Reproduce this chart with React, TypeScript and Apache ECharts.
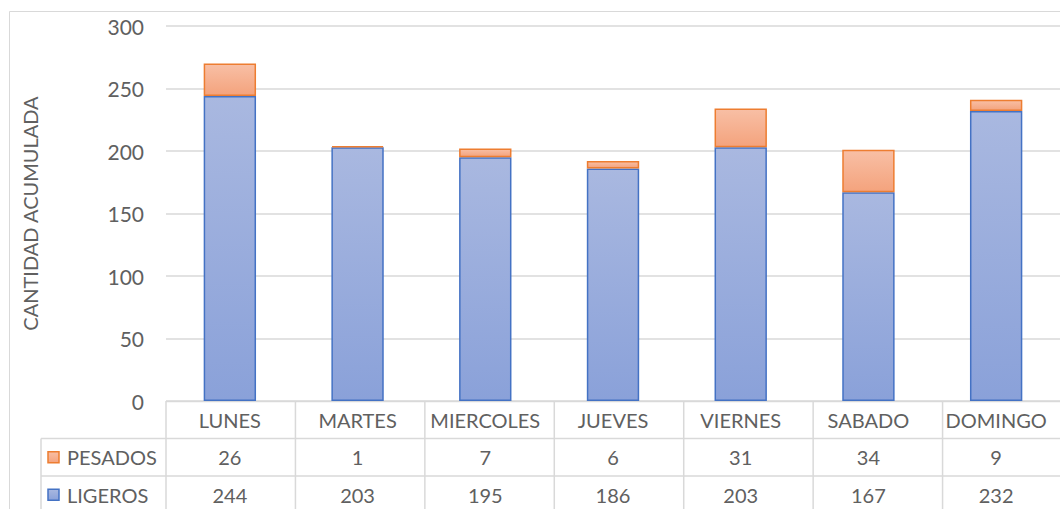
import React, { useEffect, useRef } from "react";
import * as echarts from "echarts";

const categories = ["LUNES", "MARTES", "MIERCOLES", "JUEVES", "VIERNES", "SABADO", "DOMINGO"];
const ligeros = [244, 203, 195, 186, 203, 167, 232];
const pesados = [26, 1, 7, 6, 31, 34, 9];
const seriesNames = ["PESADOS", "LIGEROS"];
const yTicks = { min: 0, max: 300, interval: 50 };
const yTitle = "CANTIDAD ACUMULADA";

const FONT = "Lato, 'Open Sans', sans-serif";
const TXT = "#606060";
const LINE = "#d9d9d9";

const GL = 166, GT = 26, GW = 906, GH = 375;
const ROW = 37.5;

const blueFill = new echarts.graphic.LinearGradient(0, 0, 0, 1, [
  { offset: 0, color: "#a9b8e0" },
  { offset: 1, color: "#8aa1d9" },
]);
const orangeFill = new echarts.graphic.LinearGradient(0, 0, 0, 1, [
  { offset: 0, color: "#f8bfa5" },
  { offset: 1, color: "#f4a37d" },
]);

export default function App() {
  const ref = useRef<HTMLDivElement>(null);
  useEffect(() => {
    if (!ref.current) return;
    const chart = echarts.init(ref.current, null, { renderer: "svg" });
    const n = categories.length;
    const bottom = GT + GH;
    const gridRight = GL + GW;
    const graphics: any[] = [];
    graphics.push({
      type: "rect",
      shape: { x: 9.5, y: 11.5, width: 1200, height: 600 },
      style: { fill: "none", stroke: LINE, lineWidth: 1 },
      silent: true,
    });
    graphics.push({ type: "line", shape: { x1: GL, y1: bottom + 0.5, x2: gridRight, y2: bottom + 0.5 }, style: { stroke: LINE, lineWidth: 1.5 } });
    graphics.push({ type: "line", shape: { x1: 41, y1: bottom + ROW, x2: gridRight, y2: bottom + ROW }, style: { stroke: LINE, lineWidth: 1.5 } });
    graphics.push({ type: "line", shape: { x1: 41, y1: bottom + ROW * 2, x2: gridRight, y2: bottom + ROW * 2 }, style: { stroke: LINE, lineWidth: 1.5 } });
    graphics.push({ type: "line", shape: { x1: 41, y1: bottom + ROW, x2: 41, y2: 520 }, style: { stroke: LINE, lineWidth: 1.5 } });
    for (let i = 0; i <= n; i++) {
      const x = GL + (i * GW) / n;
      graphics.push({ type: "line", shape: { x1: x, y1: bottom, x2: x, y2: 520 }, style: { stroke: LINE, lineWidth: 1.5 } });
    }
    const fills = [orangeFill, blueFill];
    const strokes = ["#ed7d31", "#4472c4"];
    seriesNames.forEach((name, k) => {
      const cy = bottom + ROW * (k + 1) + ROW / 2;
      graphics.push({
        type: "rect",
        shape: { x: 48, y: cy - 5.5, width: 11, height: 11 },
        style: { fill: fills[k], stroke: strokes[k], lineWidth: 1.5 },
      });
      graphics.push({
        type: "text",
        x: 67,
        y: cy,
        style: { text: name, fill: TXT, font: `20px ${FONT}`, textVerticalAlign: "middle", textAlign: "left" },
      });
    });

    const hideAxis = {
      axisLine: { show: false },
      axisTick: { show: false },
      splitLine: { show: false },
    };
    const labelBase = { color: TXT, fontSize: 20, fontFamily: FONT, verticalAlign: "middle" as const, margin: ROW / 2, interval: 0 };

    chart.setOption({
      animation: false,
      grid: { left: GL, top: GT, width: GW, height: GH, containLabel: false },
      xAxis: [
        { type: "category", data: categories, position: "bottom", ...hideAxis, axisLabel: { ...labelBase } },
        {
          type: "category", data: categories, position: "bottom", offset: ROW, ...hideAxis,
          axisLabel: { ...labelBase, formatter: (_v: string, i: number) => String(pesados[i]) },
        },
        {
          type: "category", data: categories, position: "bottom", offset: ROW * 2, ...hideAxis,
          axisLabel: { ...labelBase, formatter: (_v: string, i: number) => String(ligeros[i]) },
        },
      ],
      yAxis: {
        type: "value",
        min: yTicks.min,
        max: yTicks.max,
        interval: yTicks.interval,
        axisLine: { show: false },
        axisTick: { show: false },
        splitLine: { lineStyle: { color: LINE, width: 1.5 } },
        axisLabel: { color: TXT, fontSize: 21, fontFamily: FONT, margin: 22 },
        name: yTitle,
        nameLocation: "middle",
        nameRotate: 90,
        nameGap: 126,
        nameTextStyle: { color: TXT, fontSize: 20, fontFamily: FONT },
      },
      series: [
        {
          name: seriesNames[1],
          type: "bar",
          stack: "total",
          data: ligeros,
          barWidth: "41%",
          itemStyle: { color: blueFill, borderColor: "#4472c4", borderWidth: 1.5 },
        },
        {
          name: seriesNames[0],
          type: "bar",
          stack: "total",
          data: pesados,
          barWidth: "41%",
          itemStyle: { color: orangeFill, borderColor: "#ed7d31", borderWidth: 1.5 },
        },
      ],
      graphic: graphics,
    });
    return () => chart.dispose();
  }, []);
  return (
    <div
      ref={ref}
      style={{ position: "fixed", left: 0, top: 0, width: 1060, height: 509, background: "#ffffff" }}
    />
  );
}
